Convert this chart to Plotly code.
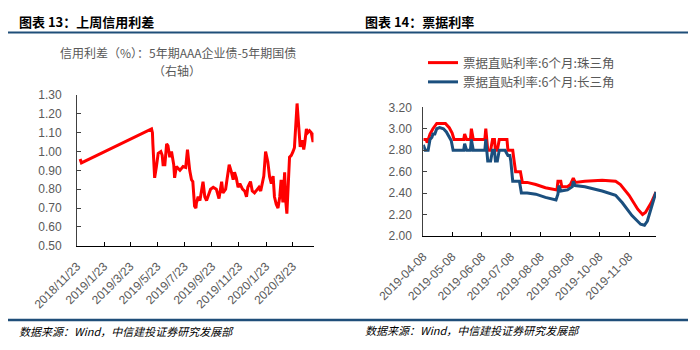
import plotly.graph_objects as go

# ---------------- data: credit spread (left) ----------------
spread_dates = [
    "2018-11-30", "2018-12-03", "2019-05-10", "2019-05-12", "2019-05-13", "2019-05-15",
    "2019-05-17", "2019-05-21", "2019-05-25", "2019-05-31", "2019-06-03", "2019-06-05",
    "2019-06-09", "2019-06-13", "2019-06-16", "2019-06-20", "2019-06-24", "2019-06-29",
    "2019-07-01", "2019-07-05", "2019-07-13", "2019-07-20", "2019-07-26", "2019-07-30",
    "2019-08-04", "2019-08-08", "2019-08-11", "2019-08-15", "2019-08-18", "2019-08-19",
    "2019-08-23", "2019-08-27", "2019-08-30", "2019-09-03", "2019-09-07", "2019-09-11",
    "2019-09-14", "2019-09-20", "2019-09-26", "2019-10-03", "2019-10-09", "2019-10-15",
    "2019-10-18", "2019-10-24", "2019-10-27", "2019-11-01", "2019-11-06", "2019-11-10",
    "2019-11-13", "2019-11-17", "2019-11-21", "2019-11-25", "2019-12-01", "2019-12-06",
    "2019-12-10", "2019-12-13", "2019-12-19", "2019-12-23", "2019-12-28", "2020-01-01",
    "2020-01-07", "2020-01-11", "2020-01-15", "2020-01-18", "2020-01-22", "2020-01-27",
    "2020-01-31", "2020-02-04", "2020-02-08", "2020-02-11", "2020-02-15", "2020-02-19",
    "2020-02-23", "2020-02-26", "2020-03-01", "2020-03-05", "2020-03-07", "2020-03-10",
    "2020-03-16", "2020-03-20", "2020-03-24", "2020-03-27", "2020-04-02", "2020-04-06",
    "2020-04-09", "2020-04-14", "2020-04-17", "2020-04-19", "2020-04-23", "2020-04-26",
    "2020-04-30", "2020-05-04", "2020-05-08", "2020-05-09",
]
spread_vals = [
    0.96, 0.94, 1.12, 1.10, 1.04, 0.97,
    0.86, 0.92, 0.99, 1.00, 0.98, 0.93,
    0.93, 1.04, 1.03, 0.97, 1.00, 0.93,
    0.86, 0.92, 0.90, 0.92, 0.915, 1.01,
    0.90, 0.85, 0.84, 0.71, 0.70, 0.725,
    0.76, 0.74, 0.78, 0.84, 0.76, 0.74,
    0.76, 0.80, 0.81, 0.80, 0.75, 0.84,
    0.78, 0.80, 0.85, 0.93, 0.89, 0.85,
    0.89, 0.86, 0.81, 0.83, 0.80, 0.79,
    0.76, 0.81, 0.84, 0.79, 0.78, 0.79,
    0.81, 0.79, 0.85, 0.87, 1.00, 0.946,
    0.866, 0.83, 0.87, 0.76, 0.72, 0.70,
    0.76, 0.85, 0.73, 0.89, 0.75, 0.67,
    0.97, 0.98, 1.00, 1.02, 1.255, 1.11,
    1.025, 1.06, 1.01, 1.04, 1.12, 1.10,
    1.11, 1.10, 1.05, 1.10,
]
spread_tickvals = ["2018-11-23", "2019-01-23", "2019-03-23", "2019-05-23", "2019-07-23",
                   "2019-09-23", "2019-11-23", "2020-01-23", "2020-03-23"]
spread_ticktext = ["2018/11/23", "2019/1/23", "2019/3/23", "2019/5/23", "2019/7/23",
                   "2019/9/23", "2019/11/23", "2020/1/23", "2020/3/23"]

# ---------------- data: bill rates (right) ----------------
prd_dates = [
    "2019-04-08", "2019-04-11", "2019-04-12", "2019-04-15", "2019-04-18", "2019-04-22",
    "2019-05-01", "2019-05-05", "2019-05-08", "2019-05-10", "2019-05-20", "2019-05-21",
    "2019-05-23", "2019-05-27", "2019-05-28", "2019-05-30", "2019-06-11", "2019-06-12",
    "2019-06-14", "2019-06-17", "2019-06-19", "2019-06-21", "2019-06-22", "2019-06-24",
    "2019-06-26", "2019-07-04", "2019-07-05", "2019-07-10", "2019-07-11", "2019-07-13",
    "2019-07-18", "2019-07-20", "2019-07-25", "2019-08-03", "2019-08-13", "2019-08-25",
    "2019-08-26", "2019-08-29", "2019-08-30", "2019-09-05", "2019-09-08", "2019-09-11",
    "2019-09-13", "2019-09-23", "2019-10-11", "2019-10-25", "2019-10-30", "2019-11-08",
    "2019-11-17", "2019-11-22", "2019-11-25", "2019-12-01", "2019-12-06",
]
prd_vals = [
    2.90, 2.90, 2.87, 2.95, 3.00, 3.05,
    3.05, 3.01, 2.96, 2.90, 2.90, 2.95,
    2.90, 2.90, 3.00, 2.90, 2.90, 3.00,
    2.80, 2.80, 2.90, 2.90, 2.80, 2.80,
    2.90, 2.90, 2.80, 2.80, 2.73, 2.60,
    2.60, 2.50, 2.50, 2.48, 2.45, 2.43,
    2.51, 2.51, 2.46, 2.46, 2.48, 2.54,
    2.50, 2.51, 2.52, 2.51, 2.48, 2.38,
    2.25, 2.20, 2.22, 2.31, 2.41,
]
yrd_dates = [
    "2019-04-08", "2019-04-10", "2019-04-13", "2019-04-15", "2019-04-17", "2019-04-18",
    "2019-04-20", "2019-04-22", "2019-04-25", "2019-04-29", "2019-05-02", "2019-05-07",
    "2019-05-09", "2019-05-20", "2019-05-21", "2019-05-23", "2019-05-27", "2019-05-28",
    "2019-05-30", "2019-06-11", "2019-06-12", "2019-06-14", "2019-06-17", "2019-06-19",
    "2019-06-21", "2019-06-22", "2019-06-24", "2019-06-26", "2019-07-02", "2019-07-05",
    "2019-07-07", "2019-07-08", "2019-07-10", "2019-07-17", "2019-07-19", "2019-07-25",
    "2019-08-03", "2019-08-13", "2019-08-24", "2019-08-26", "2019-08-27", "2019-08-29",
    "2019-09-05", "2019-09-10", "2019-09-11", "2019-09-13", "2019-09-23", "2019-10-11",
    "2019-10-25", "2019-11-01", "2019-11-11", "2019-11-20", "2019-11-24", "2019-11-27",
    "2019-12-06",
]
yrd_vals = [
    2.85, 2.80, 2.80, 2.90, 2.92, 2.95,
    2.95, 3.00, 3.01, 3.00, 2.97, 2.89,
    2.80, 2.80, 2.86, 2.80, 2.80, 2.90,
    2.80, 2.80, 2.90, 2.70, 2.70, 2.80,
    2.80, 2.70, 2.70, 2.80, 2.80, 2.75,
    2.75, 2.70, 2.51, 2.51, 2.40, 2.40,
    2.39, 2.36, 2.335, 2.39, 2.47, 2.42,
    2.43, 2.46, 2.51, 2.47, 2.46, 2.42,
    2.38, 2.31, 2.19, 2.11, 2.10, 2.14,
    2.41,
]
bill_tickvals = ["2019-04-08", "2019-05-08", "2019-06-08", "2019-07-08",
                 "2019-08-08", "2019-09-08", "2019-10-08", "2019-11-08"]
bill_ticktext = bill_tickvals

# ---------------- layout helpers ----------------
W, H = 700, 350
def fx(px):
    return px / W
def fy(py):
    return 1 - py / H

NUM_FONT = "Liberation Sans, Arial, sans-serif"
CJK_FONT = "Noto Sans CJK SC, sans-serif"
GRAY = "#595959"
RED = "#FF0000"
BLUE = "#1B4F7E"
RULE = "#1F4E79"

fig = go.Figure()
fig.add_trace(go.Scatter(x=spread_dates, y=spread_vals, mode="lines",
                         line=dict(color=RED, width=3), xaxis="x", yaxis="y",
                         showlegend=False))
fig.add_trace(go.Scatter(x=prd_dates, y=prd_vals, mode="lines",
                         name="票据直贴利率:6个月:珠三角",
                         line=dict(color=RED, width=3), xaxis="x2", yaxis="y2"))
fig.add_trace(go.Scatter(x=yrd_dates, y=yrd_vals, mode="lines",
                         name="票据直贴利率:6个月:长三角",
                         line=dict(color=BLUE, width=3), xaxis="x2", yaxis="y2"))

xcommon = dict(type="date", tickangle=-45, ticks="inside", ticklen=4, tickcolor="black",
               showline=True, linecolor="black", linewidth=1, showgrid=False, zeroline=False,
               automargin=False,
               tickfont=dict(family=NUM_FONT, size=12, color=GRAY), ticklabelstandoff=8)
ycommon = dict(ticks="inside", ticklen=4, tickcolor="#404040", tickformat=".2f",
               showline=True, linecolor="#404040", linewidth=1, showgrid=False, zeroline=False,
               automargin=False,
               tickfont=dict(family=NUM_FONT, size=12, color=GRAY))

fig.update_layout(
    width=W, height=H, autosize=False,
    margin=dict(l=0, r=0, t=0, b=0, autoexpand=False),
    paper_bgcolor="white", plot_bgcolor="white",
    xaxis=dict(domain=[fx(77), fx(313.5)], anchor="y",
               range=["2018-11-23", "2020-05-09"],
               tickvals=spread_tickvals, ticktext=spread_ticktext, **xcommon),
    yaxis=dict(domain=[fy(245.7), fy(95)], anchor="x", range=[0.5, 1.3], dtick=0.1,
               ticklabelstandoff=12, **ycommon),
    xaxis2=dict(domain=[fx(423.3), fx(656)], anchor="y2",
                range=["2019-04-08", "2019-12-06"],
                tickvals=bill_tickvals, ticktext=bill_ticktext, **xcommon),
    yaxis2=dict(domain=[fy(236), fy(107.3)], anchor="x2", range=[2.0, 3.2], dtick=0.2,
                ticklabelstandoff=8, **ycommon),
    legend=dict(x=fx(423), y=fy(48), xanchor="left", yanchor="top",
                font=dict(family=CJK_FONT, size=12.5, color=GRAY),
                bgcolor="rgba(0,0,0,0)", itemwidth=30, tracegroupgap=0),
    showlegend=True,
)

annotations = [
    dict(text="<b>图表 13：上周信用利差</b>", x=fx(17), y=fy(21), xanchor="left", yanchor="middle",
         font=dict(family=CJK_FONT, size=13, color="black")),
    dict(text="<b>图表 14：票据利率</b>", x=fx(363), y=fy(21), xanchor="left", yanchor="middle",
         font=dict(family=CJK_FONT, size=13, color="black")),
    dict(text="信用利差（%）：5年期AAA企业债-5年期国债", x=fx(177.5), y=fy(52),
         xanchor="center", yanchor="middle",
         font=dict(family=CJK_FONT, size=12, color=GRAY)),
    dict(text="（右轴）", x=fx(177), y=fy(70.5), xanchor="center", yanchor="middle",
         font=dict(family=CJK_FONT, size=12, color=GRAY)),
    dict(text="<i>数据来源：Wind，中信建投证券研究发展部</i>", x=fx(17), y=fy(331),
         xanchor="left", yanchor="middle", font=dict(family=CJK_FONT, size=11, color="black")),
    dict(text="<i>数据来源：Wind，中信建投证券研究发展部</i>", x=fx(363), y=fy(330),
         xanchor="left", yanchor="middle", font=dict(family=CJK_FONT, size=11, color="black")),
]
for a in annotations:
    a.update(xref="paper", yref="paper", showarrow=False)
fig.update_layout(annotations=annotations)

shapes = [
    dict(type="line", xref="paper", yref="paper", x0=fx(8), x1=fx(688), y0=fy(32.5), y1=fy(32.5),
         line=dict(color=RULE, width=2)),
    dict(type="line", xref="paper", yref="paper", x0=fx(8), x1=fx(688), y0=fy(320), y1=fy(320),
         line=dict(color=RULE, width=2.5)),
]
fig.update_layout(shapes=shapes)

fig.write_html("out.html")
